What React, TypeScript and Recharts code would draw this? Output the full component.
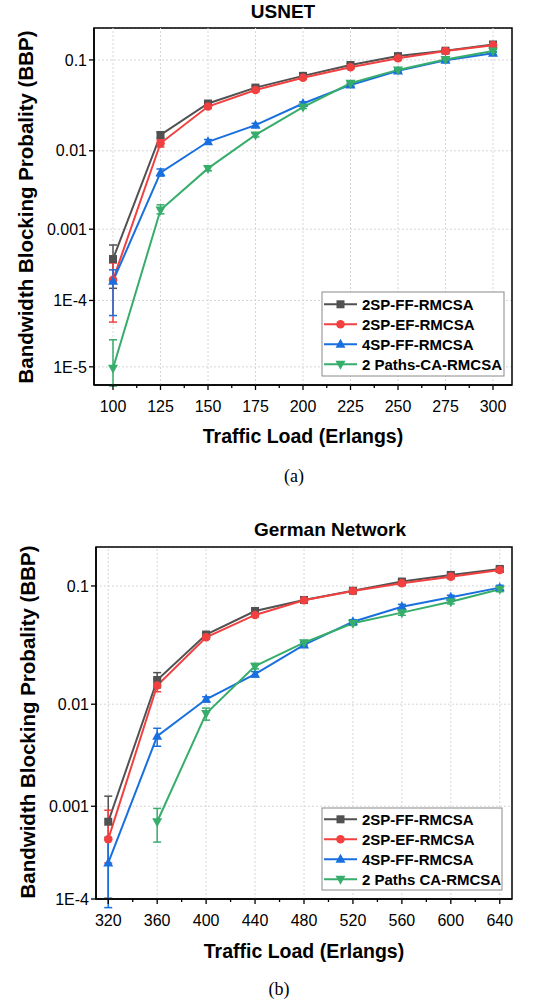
import React from "react";
import {
  LineChart,
  Line,
  XAxis,
  YAxis,
  CartesianGrid,
  ErrorBar,
  ReferenceArea,
  ReferenceLine,
} from "recharts";

const SANS = '"Liberation Sans", Arial, Helvetica, sans-serif';
const SERIF = '"Liberation Serif", "Times New Roman", serif';

// (a) USNET
const usLoads = [100, 125, 150, 175, 200, 225, 250, 275, 300];
const usMajorTicks = [100, 125, 150, 175, 200, 225, 250, 275, 300];
const usMinorTicks = [112.5, 137.5, 162.5, 187.5, 212.5, 237.5, 262.5, 287.5];
const usYTicks = [1e-5, 1e-4, 0.001, 0.01, 0.1];
const usFF = [3.9e-4, 0.0154, 0.035, 0.052, 0.069, 0.089, 0.109, 0.123, 0.141];
const usEF = [1.98e-4, 0.0123, 0.0324, 0.049, 0.066, 0.0845, 0.104, 0.122, 0.139];
const usSP4 = [1.9e-4, 0.0054, 0.0128, 0.02, 0.035, 0.0555, 0.0776, 0.099, 0.116];
const usCA = [9.5e-6, 0.0018, 0.0061, 0.0154, 0.032, 0.0578, 0.0794, 0.101, 0.122];
// error bars as [below, above]
const usFFErr = [[2.4e-4, 2.2e-4], [0.0012, 0.0012], [0.0015, 0.0015], [0.002, 0.002], [0.0025, 0.0025], [0.003, 0.003], [0.004, 0.004], [0.004, 0.004], [0.005, 0.005]];
const usEFErr = [[1.5e-4, 1.45e-4], [0.0012, 0.0012], [0.0015, 0.0015], [0.002, 0.002], [0.0025, 0.0025], [0.003, 0.003], [0.004, 0.004], [0.004, 0.004], [0.005, 0.005]];
const usSP4Err = [[1.3e-4, 0.85e-4], [0.0005, 0.0006], [0.0008, 0.0008], [0.001, 0.001], [0.0015, 0.0015], [0.002, 0.002], [0.003, 0.003], [0.003, 0.003], [0.004, 0.004]];
const usCAErr = [[4.5e-6, 1.65e-5], [0.0002, 0.0003], [0.0004, 0.0004], [0.0008, 0.0008], [0.0012, 0.0012], [0.002, 0.002], [0.003, 0.003], [0.003, 0.003], [0.004, 0.004]];

// (b) German network
const deLoads = [320, 360, 400, 440, 480, 520, 560, 600, 640];
const deMajorTicks = [320, 360, 400, 440, 480, 520, 560, 600, 640];
const deMinorTicks = [340, 380, 420, 460, 500, 540, 580, 620];
const deYTicks = [1e-4, 0.001, 0.01, 0.1];
const deFF = [6.9e-4, 0.0166, 0.041, 0.0638, 0.078, 0.092, 0.108, 0.121, 0.134];
const deEF = [4.5e-4, 0.0148, 0.0389, 0.0593, 0.0776, 0.0916, 0.105, 0.1175, 0.1317];
const deSP4 = [2.5e-4, 0.005, 0.0111, 0.0187, 0.0335, 0.0523, 0.069, 0.0818, 0.0971];
const deCA = [null, 6.9e-4, 0.0082, 0.022, 0.035, 0.0508, 0.0619, 0.0756, 0.0944];
const deFFErr = [[5.88e-4, 5.8e-4], [0.0025, 0.0027], [0.0015, 0.0015], [0.002, 0.002], [0.002, 0.002], [0.003, 0.003], [0.004, 0.004], [0.004, 0.004], [0.005, 0.005]];
const deEFErr = [[2.0e-4, 4.6e-4], [0.0018, 0.0022], [0.0015, 0.0015], [0.002, 0.002], [0.002, 0.002], [0.003, 0.003], [0.004, 0.004], [0.004, 0.004], [0.005, 0.005]];
const deSP4Err = [[1.7e-4, 2.2e-4], [0.001, 0.00095], [0.0006, 0.0006], [0.001, 0.001], [0.0015, 0.0015], [0.002, 0.002], [0.003, 0.003], [0.003, 0.003], [0.004, 0.004]];
const deCAErr = [null, [2.7e-4, 2.6e-4], [0.0011, 0.001], [0.0012, 0.0012], [0.0015, 0.0015], [0.002, 0.002], [0.003, 0.003], [0.003, 0.003], [0.004, 0.004]];

const usNames = ["2SP-FF-RMCSA", "2SP-EF-RMCSA", "4SP-FF-RMCSA", "2 Paths-CA-RMCSA"];
const deNames = ["2SP-FF-RMCSA", "2SP-EF-RMCSA", "4SP-FF-RMCSA", "2 Paths CA-RMCSA"];

const SERIES = [
  { key: "ff", color: "#515151", shape: "square" },
  { key: "ef", color: "#F14040", shape: "circle" },
  { key: "sp4", color: "#1A6FDF", shape: "up" },
  { key: "ca", color: "#37AD6B", shape: "down" },
];

const usRows = usLoads.map((load, i) => ({
  load,
  ff: usFF[i], ffErr: usFFErr[i],
  ef: usEF[i], efErr: usEFErr[i],
  sp4: usSP4[i], sp4Err: usSP4Err[i],
  ca: usCA[i], caErr: usCAErr[i],
}));

const deRows = deLoads.map((load, i) => ({
  load,
  ff: deFF[i], ffErr: deFFErr[i],
  ef: deEF[i], efErr: deEFErr[i],
  sp4: deSP4[i], sp4Err: deSP4Err[i],
  ca: deCA[i], caErr: deCAErr[i],
}));

// the y axis of the figure is a compressed log axis: position ~ (-log10 p)^0.72
function bbpScale(): any {
  let dom = [1e-4, 0.2];
  let rng = [1, 0];
  const f = (v: number) => Math.pow(-Math.log10(v), 0.72);
  const s: any = (v: number) => {
    const a = f(dom[0]);
    const b = f(dom[1]);
    return rng[0] + ((f(v) - a) / (b - a)) * (rng[1] - rng[0]);
  };
  s.domain = (d?: number[]) => {
    if (d === undefined) return dom.slice();
    dom = d.map(Number);
    return s;
  };
  s.range = (r?: number[]) => {
    if (r === undefined) return rng.slice();
    rng = r.map(Number);
    return s;
  };
  s.copy = () => bbpScale().domain(dom).range(rng);
  s.ticks = () => {
    const out: number[] = [];
    for (let e = Math.ceil(Math.log10(dom[0])); e <= Math.floor(Math.log10(dom[1])); e++) out.push(Math.pow(10, e));
    return out;
  };
  return s;
}

const fmtBbp = (v: number) => (v >= 0.001 ? String(v) : `1E-${Math.round(-Math.log10(v))}`);

function Marker({ cx, cy, shape, color }: any) {
  if (cx == null || cy == null || isNaN(cx) || isNaN(cy)) return <g />;
  if (shape === "square") return <rect x={cx - 4} y={cy - 4} width={8} height={8} fill={color} />;
  if (shape === "circle") return <circle cx={cx} cy={cy} r={4.3} fill={color} />;
  if (shape === "up")
    return <polygon points={`${cx},${cy - 5.5} ${cx - 5},${cy + 3.5} ${cx + 5},${cy + 3.5}`} fill={color} />;
  return <polygon points={`${cx},${cy + 5.5} ${cx - 5},${cy - 3.5} ${cx + 5},${cy - 3.5}`} fill={color} />;
}

const TICK_SIZE = 5;
const TICK_MARGIN = 10;

function XTick(props: any) {
  const { x, y, payload, majors } = props;
  const isMajor = majors.includes(payload.value);
  const axisY = y - TICK_SIZE - TICK_MARGIN;
  return (
    <g>
      <line x1={x} x2={x} y1={axisY} y2={axisY + (isMajor ? 5 : 3)} stroke="#000" strokeWidth={1.3} />
      {isMajor && (
        <text x={x} y={axisY + 26.5} textAnchor="middle" fontSize={16} fontFamily={SANS} fill="#000">
          {payload.value}
        </text>
      )}
    </g>
  );
}

function BbpChart({ rows, xDomain, majors, minors, yDomain, yTicks, top, margin, yWidth }: any) {
  const scale = React.useMemo(() => bbpScale(), []);
  const allTicks = [...majors, ...minors].sort((a: number, b: number) => a - b);
  return (
    <div style={{ position: "absolute", left: 0, top }}>
      <LineChart width={551} height={440} data={rows} margin={margin}>
        <CartesianGrid vertical={false} stroke="#d6d6d6" strokeDasharray="2 2" />
        {majors.map((v: number) => (
          <ReferenceLine key={v} x={v} stroke="#d6d6d6" strokeDasharray="2 2" />
        ))}
        <XAxis
          dataKey="load"
          type="number"
          domain={xDomain}
          allowDataOverflow
          ticks={allTicks}
          interval={0}
          height={30}
          tickSize={TICK_SIZE}
          tickMargin={TICK_MARGIN}
          tickLine={false}
          axisLine={{ stroke: "#000", strokeWidth: 1.5 }}
          tick={<XTick majors={majors} />}
        />
        <YAxis
          type="number"
          scale={scale}
          domain={yDomain}
          allowDataOverflow
          ticks={yTicks}
          interval={0}
          width={yWidth}
          tickSize={5}
          tickMargin={2}
          tickFormatter={fmtBbp}
          tick={{ fill: "#000", fontSize: 16, fontFamily: SANS }}
          tickLine={{ stroke: "#000", strokeWidth: 1.3 }}
          axisLine={{ stroke: "#000", strokeWidth: 1.5 }}
        />
        {SERIES.map((s) => (
          <Line
            key={s.key}
            dataKey={s.key}
            stroke={s.color}
            strokeWidth={2}
            isAnimationActive={false}
            activeDot={false}
            connectNulls={false}
            dot={(p: any) => (
              <Marker key={`${s.key}-${p.index}`} cx={p.cx} cy={p.cy} shape={s.shape} color={s.color} />
            )}
          >
            <ErrorBar dataKey={`${s.key}Err`} direction="y" width={4} strokeWidth={1.5} stroke={s.color} />
          </Line>
        ))}
        <ReferenceArea
          x1={xDomain[0]}
          x2={xDomain[1]}
          y1={yDomain[0]}
          y2={yDomain[1]}
          fill="none"
          fillOpacity={0}
          stroke="#000"
          strokeWidth={1.5}
          ifOverflow="visible"
        />
      </LineChart>
    </div>
  );
}

function LegendBox({ x, y, w, h, first, names }: any) {
  return (
    <g>
      <rect x={x} y={y} width={w} height={h} fill="#fff" stroke="#8a8a8a" strokeWidth={1} />
      {SERIES.map((s, i) => {
        const cy = y + first + i * 20;
        return (
          <g key={s.key}>
            <line x1={x + 2} x2={x + 35} y1={cy} y2={cy} stroke={s.color} strokeWidth={2} />
            <Marker cx={x + 18.5} cy={cy} shape={s.shape} color={s.color} />
            <text x={x + 40} y={cy + 5.4} fontSize={15} fontWeight="bold" fontFamily={SANS} fill="#000">
              {names[i]}
            </text>
          </g>
        );
      })}
    </g>
  );
}

export default function App() {
  const bold = { fontFamily: SANS, fontWeight: "bold" as const, fill: "#000" };
  return (
    <div style={{ position: "absolute", left: 0, top: 0, width: 551, height: 1002, background: "#fff", overflow: "hidden" }}>
      <BbpChart
        rows={usRows}
        xDomain={[90, 310]}
        majors={usMajorTicks}
        minors={usMinorTicks}
        yDomain={[5.2e-6, 0.2]}
        yTicks={usYTicks}
        top={0}
        yWidth={94}
        margin={{ top: 28, right: 39, bottom: 25, left: 0 }}
      />
      <BbpChart
        rows={deRows}
        xDomain={[310, 650]}
        majors={deMajorTicks}
        minors={deMinorTicks}
        yDomain={[1e-4, 0.192]}
        yTicks={deYTicks}
        top={500}
        yWidth={96}
        margin={{ top: 47, right: 39, bottom: 11, left: 0 }}
      />
      <svg width={551} height={1002} style={{ position: "absolute", left: 0, top: 0, pointerEvents: "none" }}>
        <text x={283} y={18.3} textAnchor="middle" fontSize={19} {...bold}>USNET</text>
        <text x={33} y={207} textAnchor="middle" fontSize={20.5} transform="rotate(-90 33 207)" {...bold}>
          Bandwidth Blocking Probality (BBP)
        </text>
        <text x={303} y={443} textAnchor="middle" fontSize={19.5} {...bold}>Traffic Load (Erlangs)</text>
        <text x={294} y={481.5} textAnchor="middle" fontSize={18} fontFamily={SERIF} fill="#000">(a)</text>
        <LegendBox x={322} y={292} w={182} h={84} first={12.3} names={usNames} />

        <text x={330} y={536} textAnchor="middle" fontSize={19} {...bold}>German Network</text>
        <text x={35} y={722} textAnchor="middle" fontSize={20.5} transform="rotate(-90 35 722)" {...bold}>
          Bandwidth Blocking Probality (BBP)
        </text>
        <text x={304} y={958} textAnchor="middle" fontSize={19.5} {...bold}>Traffic Load (Erlangs)</text>
        <text x={279} y={994.5} textAnchor="middle" fontSize={18} fontFamily={SERIF} fill="#000">(b)</text>
        <LegendBox x={322} y={808} w={180} h={82} first={11.3} names={deNames} />
      </svg>
    </div>
  );
}
